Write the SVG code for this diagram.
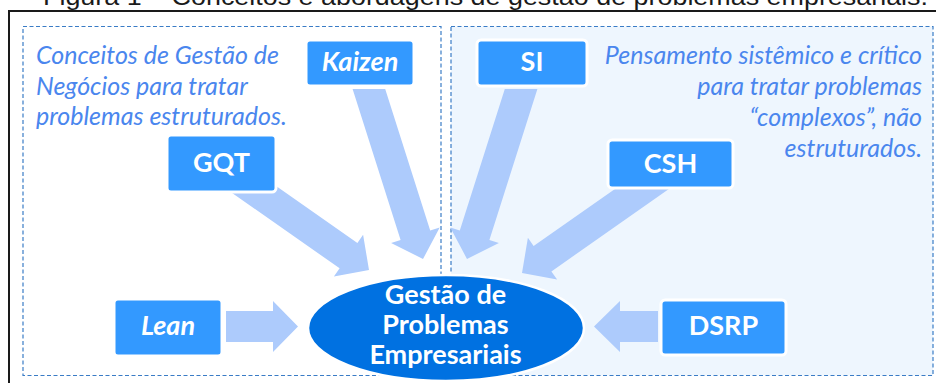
<svg xmlns="http://www.w3.org/2000/svg" width="936" height="383" viewBox="0 0 936 383">
<style>
.panel{stroke:#3a7cc6;stroke-width:1.2;stroke-dasharray:4 2.5}
.node{fill:#3399ff;stroke:#ffffff;stroke-width:3}
.arrow{fill:#adcbfc;stroke:none}
.nt{font-family:Lato,"Open Sans",sans-serif;font-weight:bold;font-size:27px;fill:#ffffff;text-anchor:middle}
.it{font-style:italic}
.desc{font-family:Lato,"Open Sans",sans-serif;font-style:italic;font-size:25px;fill:#4a86ee}
</style>
<rect x="0" y="0" width="936" height="383" fill="#ffffff"/>
<rect x="9" y="11" width="1000" height="500" fill="none" stroke="#1a1a1a" stroke-width="2"/>
<text x="43" y="5" font-family="Liberation Sans, Arial, sans-serif" font-size="24" fill="#1a1a1a" textLength="885" lengthAdjust="spacingAndGlyphs">Figura 1 – Conceitos e abordagens de gestão de problemas empresariais.</text>
<g id="panels">
<rect class="panel" x="23" y="26.5" width="418" height="349" fill="#ffffff"/>
<rect class="panel" x="451" y="26.5" width="482" height="349" fill="#eef6fe"/>
</g>
<g id="connectors">
<polygon class="arrow" points="352.6,89 385.2,89 430.2,230.5 439.7,227.5 423,259 391.1,242.9 400.6,239.9"/>
<polygon class="arrow" points="537.4,89 504.8,89 459.8,230.5 450.3,227.5 467,259 498.9,242.9 489.4,239.9"/>
<polygon class="arrow" points="226.4,151.1 357.4,242.9 363.1,234.7 369,270 333.9,276.5 339.6,268.3 208.6,176.5"/>
<polygon class="arrow" points="690.6,173.8 551.4,271.4 557.1,279.6 522,273 527.9,237.8 533.6,246 672.8,148.4"/>
<polygon class="arrow" points="226,311 273,311 273,301 298,326.5 273,352 273,342 226,342"/>
<polygon class="arrow" points="658,311 620,311 620,301 594,326.5 620,352 620,342 658,342"/>
</g>
<g id="node-kaizen">
<rect class="node" x="306" y="40" width="108" height="46" rx="4"/>
<text class="nt it" x="360" y="71">Kaizen</text>
</g>
<g id="node-si">
<rect class="node" x="477" y="40" width="110" height="46" rx="4"/>
<text class="nt" x="532" y="71">SI</text>
</g>
<g id="node-gqt">
<rect class="node" x="167" y="135" width="109" height="57" rx="4"/>
<text class="nt" x="221.5" y="172">GQT</text>
</g>
<g id="node-csh">
<rect class="node" x="608" y="140" width="125" height="48" rx="4"/>
<text class="nt" x="670.5" y="172.5">CSH</text>
</g>
<g id="node-lean">
<rect class="node" x="114" y="299" width="108" height="57" rx="4"/>
<text class="nt it" x="168" y="335">Lean</text>
</g>
<g id="node-dsrp">
<rect class="node" x="661" y="300" width="125" height="55" rx="4"/>
<text class="nt" x="723.5" y="335">DSRP</text>
</g>
<g id="node-center">
<ellipse cx="446" cy="328" rx="138" ry="53" fill="#0071e1" stroke="#ffffff" stroke-width="2.5"/>
<text class="nt" x="445.5" y="304">Gestão de</text>
<text class="nt" x="445.5" y="334">Problemas</text>
<text class="nt" x="445.5" y="364">Empresariais</text>
</g>
<g id="label-left">
<text class="desc" x="36" y="64">Conceitos de Gestão de</text>
<text class="desc" x="36" y="94.5">Negócios para tratar</text>
<text class="desc" x="36" y="125">problemas estruturados.</text>
</g>
<g id="label-right" text-anchor="end">
<text class="desc" x="922" y="64">Pensamento sistêmico e crítico</text>
<text class="desc" x="922" y="95">para tratar problemas</text>
<text class="desc" x="922" y="126">“complexos”, não</text>
<text class="desc" x="922" y="157">estruturados.</text>
</g>
</svg>
